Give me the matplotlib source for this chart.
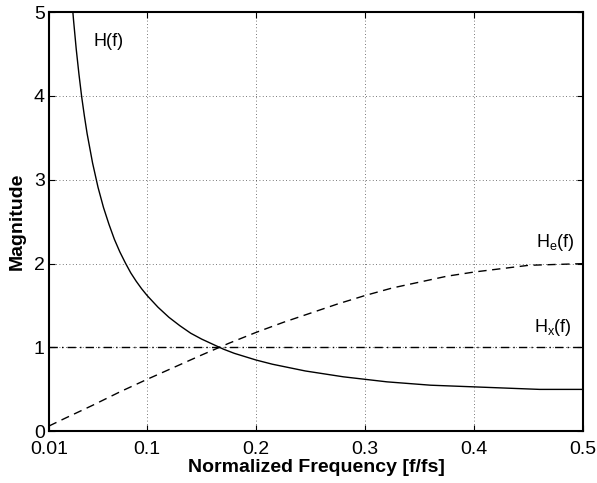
import matplotlib
matplotlib.use("Agg")
import matplotlib.pyplot as plt

plt.rcParams['font.family'] = ['Liberation Sans', 'DejaVu Sans']
plt.rcParams['mathtext.default'] = 'regular'

# values
f_h = [0.025, 0.03, 0.0325, 0.035, 0.0375, 0.04, 0.0425, 0.045, 0.05, 0.055,
       0.06, 0.065, 0.07, 0.075, 0.08, 0.085, 0.09, 0.095, 0.10, 0.11, 0.12,
       0.13, 0.14, 0.15, 0.16, 0.17, 0.18, 0.19, 0.20, 0.215, 0.23, 0.245,
       0.26, 0.28, 0.30, 0.32, 0.34, 0.36, 0.38, 0.40, 0.42, 0.44, 0.46, 0.48, 0.50]
h_vals = [6.37, 5.31, 4.91, 4.56, 4.26, 3.99, 3.76, 3.55, 3.20, 2.91,
          2.67, 2.47, 2.29, 2.14, 2.01, 1.89, 1.79, 1.70, 1.62, 1.48, 1.36,
          1.26, 1.17, 1.10, 1.04, 0.98, 0.93, 0.89, 0.85, 0.80, 0.76, 0.72,
          0.69, 0.65, 0.62, 0.59, 0.57, 0.55, 0.54, 0.53, 0.52, 0.51, 0.50, 0.50, 0.50]

f_e = [0.01, 0.025, 0.05, 0.075, 0.10, 0.125, 0.15, 0.175, 0.20, 0.225, 0.25,
       0.275, 0.30, 0.325, 0.35, 0.375, 0.40, 0.425, 0.45, 0.475, 0.50]
he_vals = [0.063, 0.157, 0.31, 0.47, 0.62, 0.765, 0.91, 1.05, 1.18, 1.30, 1.41,
           1.52, 1.62, 1.71, 1.78, 1.85, 1.90, 1.94, 1.98, 1.99, 2.0]

f_x = [0.01, 0.5]
hx_vals = [1.0, 1.0]

xticks = [0.01, 0.1, 0.2, 0.3, 0.4, 0.5]
xtick_labels = ['0.01', '0.1', '0.2', '0.3', '0.4', '0.5']
yticks = [0, 1, 2, 3, 4, 5]

fig = plt.figure(figsize=(5.97, 4.83), dpi=100)
ax = fig.add_axes([0.082, 0.107, 0.895, 0.868])

ax.plot(f_h, h_vals, color='k', lw=1.0)
ax.plot(f_e, he_vals, color='k', lw=1.0, ls=(0, (6, 4)))
ax.plot(f_x, hx_vals, color='k', lw=1.0, ls=(0, (6, 3, 1, 3)))

ax.set_xlim(0.01, 0.5)
ax.set_ylim(0, 5)
ax.set_xticks(xticks)
ax.set_xticklabels(xtick_labels)
ax.set_yticks(yticks)
ax.tick_params(direction='in', top=True, right=True, labelsize=14, length=4)
ax.tick_params(axis='x', pad=7)
ax.tick_params(axis='y', pad=3)
ax.grid(True, ls=(0, (1, 3)), color='k', lw=0.6, alpha=0.7)
for s in ax.spines.values():
    s.set_linewidth(1.5)

ax.set_xlabel('Normalized Frequency [f/fs]', fontsize=14, fontweight='bold', labelpad=1)
ax.set_ylabel('Magnitude', fontsize=14, fontweight='bold', labelpad=6)

ax.text(0.0513, 4.65, 'H(f)', fontsize=13, va='center', ha='left')
ax.text(0.4917, 2.196, 'H$_e$(f)', fontsize=13, va='baseline', ha='right')
ax.text(0.4898, 1.18, 'H$_x$(f)', fontsize=13, va='baseline', ha='right')

fig.savefig('out.png', dpi=100)
